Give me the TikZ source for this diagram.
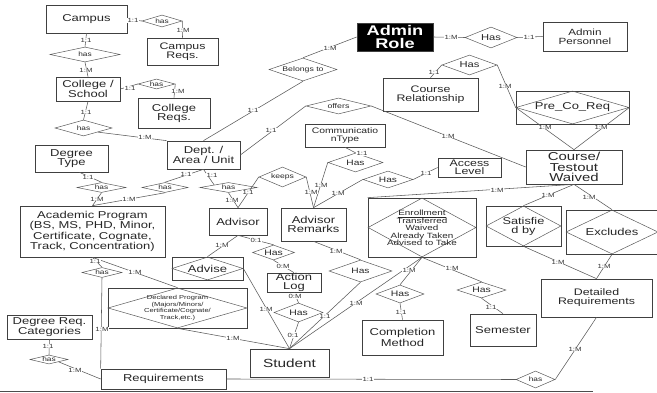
\documentclass[tikz,border=0pt]{standalone}
\usepackage{fontspec}
\setmainfont{Liberation Sans}[FakeStretch=1.3]
\usetikzlibrary{shapes.geometric}
\newcommand\fsz[2]{\fontsize{#1}{#2}\selectfont}
% relationship diamond: name, x, y, width, height, font, text
\newcommand\relnode[7]{%
  \node[reln, minimum width=#4pt, minimum height=#5pt] (#1) at (#2,#3) {};
  \node[txt, font=#6] (#1t) at (#1) {#7};}
% entity box with a relationship diamond inscribed
\newcommand\boxrel[7]{%
  \node[ent, minimum width=#4pt, minimum height=#5pt] (#1) at (#2,#3) {};
  \node[reln, minimum width=#4pt, minimum height=#5pt] (#1d) at (#1) {};
  \node[txt, font=#6] (#1t) at (#1) {#7};}
\begin{document}
\begin{tikzpicture}[x=1pt,y=-1pt,
  ent/.style={draw=black!75, line width=0.7pt, rectangle, inner sep=0pt, text=black!85, align=center},
  reln/.style={draw=black!65, line width=0.5pt, diamond, inner sep=0pt},
  txt/.style={inner sep=0pt, align=center, text=black!85},
  lbl/.style={fill=white, inner sep=0.4pt, font=\fsz{6}{6}, text=black!80},
  conn/.style={draw=black!65, line width=0.55pt}]
\useasboundingbox (0,0) rectangle (657,393);

% ---------- entities ----------
\node[ent, minimum width=81pt, minimum height=28pt, font=\fsz{10}{9}] (campus) at (86.5,19) {Campus};
\node[ent, minimum width=71pt, minimum height=27pt, font=\fsz{9.5}{9}] (campusreq) at (182.5,51.5) {Campus\\Reqs.};
\node[ent, minimum width=64pt, minimum height=24pt, font=\fsz{10}{9}] (college) at (88,89) {College /\\School};
\node[ent, minimum width=72pt, minimum height=30pt, font=\fsz{10}{9}] (collegereq) at (174,113) {College\\Reqs.};
\node[ent, minimum width=73pt, minimum height=27pt, font=\fsz{10}{9}] (degtype) at (71.5,158.5) {Degree\\Type};
\node[ent, minimum width=73pt, minimum height=28pt, font=\fsz{10}{9}] (dept) at (203.5,155) {Dept. /\\Area / Unit};
\node[ent, minimum width=145pt, minimum height=51pt, font=\fsz{10}{8.6}] (acad) at (92.5,231.5)
  {Academic Program\\(BS, MS, PHD, Minor,\\Certificate, Cognate,\\Track, Concentration)};
\node[ent, minimum width=58pt, minimum height=27pt, font=\fsz{10}{9}] (advisor) at (238,221.5) {Advisor};
\node[ent, minimum width=65pt, minimum height=33pt, font=\fsz{10}{9}] (remarks) at (313.5,224.5) {Advisor\\Remarks};
\node[ent, minimum width=80pt, minimum height=23pt, font=\fsz{8}{7.5}] (commtype) at (345,135.5) {Communicatio\\nType};
\node[ent, minimum width=63pt, minimum height=19pt, font=\fsz{9.5}{8.5}] (access) at (469.5,167.5) {Access\\Level};
\node[ent, minimum width=96pt, minimum height=34pt, font=\fsz{11.5}{10.8}] (course) at (574,167) {Course/\\Testout\\Waived};
\node[ent, minimum width=95pt, minimum height=33pt, font=\fsz{9.5}{9}] (courserel) at (430.5,94.5) {Course\\Relationship};
\node[ent, fill=black, text=white, minimum width=76pt, minimum height=28pt, font=\bfseries\fsz{14}{12.5}] (adminrole) at (395,37) {Admin\\Role};
\node[ent, minimum width=84pt, minimum height=29pt, font=\fsz{9}{9}] (adminpers) at (585,36.5) {Admin\\Personnel};
\node[ent, minimum width=111pt, minimum height=38pt, font=\fsz{9.5}{9}] (detailed) at (596.5,298) {Detailed\\Requirements};
\node[ent, minimum width=81pt, minimum height=35pt, font=\fsz{10}{9}] (completion) at (402.5,337.5) {Completion\\Method};
\node[ent, minimum width=66pt, minimum height=32pt, font=\fsz{10}{9}] (semester) at (503,330) {Semester};
\node[ent, minimum width=79pt, minimum height=28pt, font=\fsz{11.8}{10}] (student) at (289.5,363) {Student};
\node[ent, minimum width=54pt, minimum height=19pt, font=\fsz{10}{9}] (actionlog) at (294,282.5) {Action\\Log};
\node[ent, minimum width=125pt, minimum height=20pt, font=\fsz{10}{9}] (requirements) at (163.5,379) {Requirements};
\node[ent, minimum width=85pt, minimum height=24pt, font=\fsz{10}{9}] (degreqcat) at (49.5,327) {Degree Req.\\Categories};

% ---------- boxed relationships ----------
\boxrel{precoreq}{572.5}{107.5}{113}{33}{\fsz{10}{9}}{Pre\_Co\_Req}
\boxrel{satisfied}{523.5}{226}{75}{40}{\fsz{9.8}{9}}{Satisfie\\d by}
\boxrel{excludes}{612}{232}{92}{44}{\fsz{10}{9}}{Excludes}
\boxrel{advise}{207.5}{268.5}{71}{23}{\fsz{10}{9}}{Advise}
\boxrel{declared}{177.5}{308}{139}{40}{\fsz{5.8}{6.5}}{Declared Program\\(Majors/Minors/\\Certificate/Cognate/\\Track,etc.)}
\boxrel{enrollment}{422}{227.5}{108}{59}{\fsz{7.6}{7.1}}{\underline{Enrollment}\\Transferred\\Waived\\Already Taken\\Advised to Take}

% ---------- relationships ----------
\relnode{hasA}{162}{21}{40}{12}{\fsz{6.4}{7}}{has}
\relnode{hasB}{85}{54.5}{70}{15}{\fsz{6.4}{7}}{has}
\relnode{hasC}{156.5}{84}{37}{10}{\fsz{6.4}{7}}{has}
\relnode{hasD}{83.5}{128}{57}{16}{\fsz{6.4}{7}}{has}
\relnode{hasE}{101.5}{187.5}{49}{10}{\fsz{6.4}{7}}{has}
\relnode{hasF}{165}{187.5}{46}{10}{\fsz{6.4}{7}}{has}
\relnode{hasG}{228.5}{187.5}{57}{10}{\fsz{6.4}{7}}{has}
\relnode{keeps}{282.5}{177}{47}{20}{\fsz{6.6}{7}}{keeps}
\relnode{hasComm}{355.5}{162.5}{55}{19}{\fsz{7.8}{8}}{Has}
\relnode{hasAccess}{388}{179.5}{50}{17}{\fsz{7.8}{8}}{Has}
\relnode{belongs}{303}{69.5}{68}{23}{\fsz{6.7}{7}}{Belongs to}
\relnode{offers}{338.5}{106}{65}{16}{\fsz{6.8}{7}}{offers}
\relnode{hasCR}{469.5}{65}{55}{20}{\fsz{8.6}{8}}{Has}
\relnode{hasAdmin}{491}{37.5}{52}{21}{\fsz{8.6}{8}}{Has}
\relnode{hasAL}{273.5}{252.5}{42}{15}{\fsz{8}{8}}{Has}
\relnode{hasLS}{298.5}{312.5}{49}{19}{\fsz{8}{8}}{Has}
\relnode{hasRS}{360.5}{271}{63}{22}{\fsz{7.8}{8}}{Has}
\relnode{hasCM}{400}{294}{48}{18}{\fsz{8}{8}}{Has}
\relnode{hasSem}{481.5}{290}{49}{16}{\fsz{8}{8}}{Has}
\relnode{hasDR}{535.5}{379.5}{39}{17}{\fsz{6.4}{7}}{has}
\relnode{hasDRC}{49}{359.5}{38}{9}{\fsz{6.4}{7}}{has}
\relnode{hasAR}{102}{272.5}{40}{10}{\fsz{6.4}{7}}{has}

% ---------- connectors ----------
\draw[conn] (campus.east) -- (hasA.west);
\draw[conn] (hasA.east) -- (campusreq.north);
\draw[conn] (campus.south) -- (hasB.north);
\draw[conn] (hasB.south) -- (college.north);
\draw[conn] (college.east) -- (hasC.west);
\draw[conn] (hasC.east) -- (collegereq.north);
\draw[conn] (college.south) -- (hasD.north);
\draw[conn] (hasD.south east) -- (dept.north west);
\draw[conn] (degtype.-60) -- (hasE.north);
\draw[conn] (hasE.south) -- (acad.north);
\draw[conn] (dept.south) -- (hasF.north);
\draw[conn] (hasF.south) -- (acad.north);
\draw[conn] (dept.south) -- (hasG.north west);
\draw[conn] (hasG.south) -- (advisor.north);
\draw[conn] (advisor.north) -- (keeps.west);
\draw[conn] (keeps.east) -- (remarks.north);
\draw[conn] (commtype.south) -- (hasComm.north);
\draw[conn] (hasComm.west) -- (remarks.north);
\draw[conn] (hasAccess.west) -- (remarks.north);
\draw[conn] (hasAccess.east) -- (access.west);
\draw[conn] (adminrole.west) -- (belongs.north);
\draw[conn] (belongs.south) -- (dept.north);
\draw[conn] (dept.east) -- (offers.west);
\draw[conn] (offers.east) -- (course.west);
\draw[conn] (adminrole.east) -- (hasAdmin.west);
\draw[conn] (hasAdmin.east) -- (adminpers.west);
\draw[conn] (courserel.north) -- (hasCR.west);
\draw[conn] (hasCR.east) -- (precoreq.west);
\draw[conn] (precoreq.west) -- (course.north);
\draw[conn] (precoreq.east) -- (course.north);
\draw[conn] (enrollment.north west) -- (course.south);
\draw[conn] (course.south) -- (satisfied.north);
\draw[conn] (course.south) -- (excludes.north);
\draw[conn] (satisfied.south) -- (detailed.north);
\draw[conn] (excludes.south) -- (detailed.north);
\draw[conn] (detailed.south) -- (hasDR.east);
\draw[conn] (hasDR.west) -- (requirements.east);
\draw[conn] (degreqcat.south) -- (hasDRC.north);
\draw[conn] (hasDRC.south east) -- (requirements.west);
\draw[conn] (acad.south) -- (hasAR.north);
\draw[conn] (hasAR.south) -- (requirements.north west);
\draw[conn] (acad.south) -- (declared.north);
\draw[conn] (declared.south) -- (student.north);
\draw[conn] (advisor.south) -- (advise.north);
\draw[conn] (advise.east) -- (student.north);
\draw[conn] (advisor.south) -- (hasAL.north);
\draw[conn] (hasAL.south) -- (actionlog.north);
\draw[conn] (actionlog.south) -- (hasLS.north);
\draw[conn] (hasLS.south) -- (student.north);
\draw[conn] (remarks.south) -- (hasRS.north);
\draw[conn] (hasRS.south) -- (student.north);
\draw[conn] (enrollment.south) -- (student.north);
\draw[conn] (enrollment.south) -- (hasCM.north);
\draw[conn] (hasCM.south) -- (completion.north);
\draw[conn] (enrollment.south) -- (hasSem.north);
\draw[conn] (hasSem.south) -- (semester.north);

% page rule along the bottom
\coordinate (ruleL) at (0,391.5);
\coordinate (ruleR) at (593,391.5);
\draw[black!70, line width=1.2pt] (ruleL) -- (ruleR);

% ---------- cardinalities ----------
\node[lbl] (c1) at (133,20.5) {1:1};
\node[lbl] (c2) at (183,30) {1:M};
\node[lbl] (c3) at (86,40) {1:1};
\node[lbl] (c4) at (86,70) {1:M};
\node[lbl] (c5) at (130,88) {1:1};
\node[lbl] (c6) at (178,91) {1:M};
\node[lbl] (c7) at (86,112) {1:1};
\node[lbl] (c8) at (145,137) {1:M};
\node[lbl] (c9) at (88,177) {1:1};
\node[lbl] (c10) at (97,199) {1:M};
\node[lbl] (c11) at (186,174) {1:1};
\node[lbl] (c12) at (129,199) {1:M};
\node[lbl] (c13) at (212,175) {1:1};
\node[lbl] (c14) at (232,200) {1:M};
\node[lbl] (c15) at (248,192) {1:1};
\node[lbl] (c16) at (311,192) {1:M};
\node[lbl] (c17) at (362,153.5) {1:1};
\node[lbl] (c18) at (321,185) {1:M};
\node[lbl] (c19) at (338,193) {1:M};
\node[lbl] (c20) at (426,173) {1:1};
\node[lbl] (c21) at (330,48) {1:M};
\node[lbl] (c22) at (253,110) {1:1};
\node[lbl] (c23) at (271,130) {1:1};
\node[lbl] (c24) at (448,136) {1:M};
\node[lbl] (c25) at (451,37) {1:M};
\node[lbl] (c26) at (529,37) {1:1};
\node[lbl] (c27) at (434,72) {1:1};
\node[lbl] (c28) at (505,86) {1:M};
\node[lbl] (c29) at (545,127) {1:M};
\node[lbl] (c30) at (601,127) {1:M};
\node[lbl] (c31) at (497,190) {1:M};
\node[lbl] (c32) at (548,195) {1:M};
\node[lbl] (c33) at (589,197) {1:M};
\node[lbl] (c34) at (558,262) {1:M};
\node[lbl] (c35) at (604,266) {1:M};
\node[lbl] (c36) at (575,349) {1:M};
\node[lbl] (c37) at (368,379.5) {1:1};
\node[lbl] (c38) at (48,346) {1:1};
\node[lbl] (c39) at (75,370) {1:M};
\node[lbl] (c40) at (95,261) {1:1};
\node[lbl] (c41) at (102,329) {1:M};
\node[lbl] (c42) at (135,272) {1:M};
\node[lbl] (c43) at (233,338) {1:M};
\node[lbl] (c44) at (222,245) {1:M};
\node[lbl] (c45) at (266,309) {1:M};
\node[lbl] (c46) at (256,240) {0:1};
\node[lbl] (c47) at (283,266) {0:M};
\node[lbl] (c48) at (295,296) {0:M};
\node[lbl] (c49) at (293,335) {0:1};
\node[lbl] (c50) at (336,251) {1:M};
\node[lbl] (c51) at (325,316) {1:1};
\node[lbl] (c52) at (356,303) {1:M};
\node[lbl] (c53) at (409,270) {1:M};
\node[lbl] (c54) at (401,312) {1:1};
\node[lbl] (c55) at (452,268) {1:M};
\node[lbl] (c56) at (491,307) {1:1};
\end{tikzpicture}
\end{document}
